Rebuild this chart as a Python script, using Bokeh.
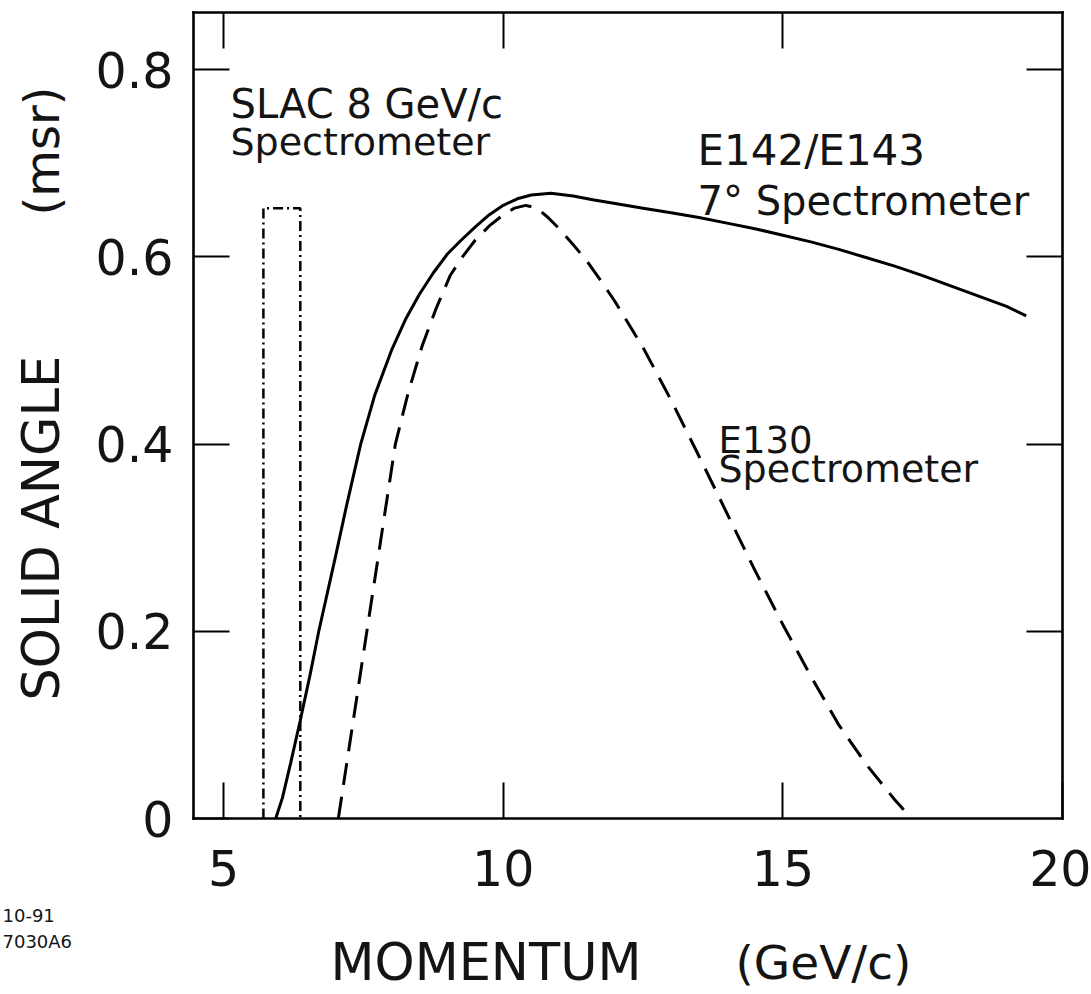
import math
from bokeh.plotting import figure
from bokeh.models import LinearAxis, FixedTicker, Label, Range1d
from bokeh.embed import file_html
from bokeh.resources import INLINE

# ---- data ----
e142_momentum = [5.93, 6.05, 6.20, 6.37, 6.55, 6.70, 6.85, 7.00, 7.20, 7.45, 7.70, 8.00,
                 8.25, 8.50, 8.75, 9.00, 9.25, 9.50, 9.75, 10.00, 10.25, 10.50, 10.85,
                 11.25, 11.60, 12.00, 12.50, 13.00, 13.50, 14.00, 14.50, 15.00, 15.50,
                 16.00, 16.50, 17.00, 17.50, 18.00, 18.50, 19.00, 19.35]
e142_solid_angle = [0.000, 0.022, 0.060, 0.105, 0.155, 0.200, 0.240, 0.280, 0.335, 0.400,
                    0.452, 0.500, 0.533, 0.560, 0.583, 0.603, 0.618, 0.632, 0.645, 0.655,
                    0.662, 0.666, 0.668, 0.665, 0.661, 0.657, 0.652, 0.647, 0.642, 0.636,
                    0.630, 0.623, 0.616, 0.608, 0.599, 0.590, 0.580, 0.569, 0.558, 0.547,
                    0.537]

e130_momentum = [7.05, 7.30, 7.55, 7.80, 8.07, 8.30, 8.55, 8.80, 9.05, 9.27, 9.50, 9.75,
                 10.00, 10.20, 10.40, 10.60, 10.80, 11.00, 11.25, 11.50, 11.75, 12.00,
                 12.50, 13.00, 13.50, 14.00, 14.50, 15.00, 15.50, 16.00, 16.50, 17.00, 17.30]
e130_solid_angle = [0.000, 0.098, 0.196, 0.294, 0.400, 0.455, 0.505, 0.545, 0.580, 0.600,
                    0.618, 0.633, 0.645, 0.652, 0.655, 0.652, 0.642, 0.630, 0.613, 0.595,
                    0.574, 0.552, 0.503, 0.447, 0.387, 0.326, 0.265, 0.207, 0.152, 0.100,
                    0.057, 0.020, 0.000]

slac_momentum = [5.71, 5.71, 6.37, 6.37]
slac_solid_angle = [0.0, 0.652, 0.652, 0.0]

x_ticks = [5, 10, 15, 20]
y_ticks = [0, 0.2, 0.4, 0.6, 0.8]

# plotted box (axis limits)
X_MIN, X_MAX = 4.46, 20.0
Y_MIN, Y_MAX = 0.0, 0.861

# ---- page geometry (pixels) ----
W, H = 1091, 994
BOX_L, BOX_R, BOX_T, BOX_B = 193, 1062, 12, 818
sx = (BOX_R - BOX_L) / (X_MAX - X_MIN)
sy = (BOX_B - BOX_T) / (Y_MAX - Y_MIN)
x_start = X_MIN - BOX_L / sx
x_end = X_MAX + (W - BOX_R) / sx
y_start = Y_MIN - (H - BOX_B) / sy
y_end = Y_MAX + BOX_T / sy

def px_x(px):
    return X_MIN + (px - BOX_L) / sx

def px_y(py):
    return Y_MIN + (BOX_B - py) / sy

FONT = "DejaVu Sans"
INK = "#141414"

p = figure(width=W, height=H,
           x_range=Range1d(x_start, x_end), y_range=Range1d(y_start, y_end),
           output_backend="svg", toolbar_location=None,
           min_border=0, min_border_left=0, min_border_right=0,
           min_border_top=0, min_border_bottom=0)
p.xgrid.visible = False
p.ygrid.visible = False
p.outline_line_color = None
p.background_fill_color = "white"
p.border_fill_color = "white"

def style_axis(ax, ticks, show_labels):
    ax.ticker = FixedTicker(ticks=ticks)
    ax.major_tick_in = 36
    ax.major_tick_out = 0
    ax.minor_tick_in = 0
    ax.minor_tick_out = 0
    ax.minor_tick_line_color = None
    ax.major_tick_line_color = "black"
    ax.major_tick_line_width = 2
    ax.axis_line_color = "black"
    ax.axis_line_width = 2.6
    ax.axis_line_cap = "square"
    if show_labels:
        ax.major_label_text_font = FONT
        ax.major_label_text_font_size = "49px"
        ax.major_label_text_color = INK
    else:
        ax.major_label_text_font_size = "1px"
        ax.major_label_text_color = None
        ax.major_label_standoff = 0

xa = p.xaxis[0]
style_axis(xa, x_ticks, True)
xa.fixed_location = Y_MIN
xa.bounds = (X_MIN, X_MAX)
xa.major_label_standoff = 31

ya = p.yaxis[0]
style_axis(ya, y_ticks, True)
ya.fixed_location = X_MIN
ya.bounds = (Y_MIN, Y_MAX)
ya.major_label_standoff = 20
ya.major_label_overrides = {0: "0"}

top = LinearAxis(fixed_location=Y_MAX, bounds=(X_MIN, X_MAX))
style_axis(top, [5, 10, 15], False)
p.add_layout(top, "above")
right = LinearAxis(fixed_location=X_MAX, bounds=(Y_MIN, Y_MAX))
style_axis(right, [0.2, 0.4, 0.6, 0.8], False)
p.add_layout(right, "right")

# ---- curves ----
p.line(slac_momentum, slac_solid_angle, line_color="black", line_width=2.5,
       line_dash="10 4 2 4")
p.line(e130_momentum, e130_solid_angle, line_color="black", line_width=3,
       line_dash="22 12")
p.line(e142_momentum, e142_solid_angle, line_color="black", line_width=3)

# ---- texts (anchored at the middle of each line of text) ----
def lab(x, y, text, size, angle=0.0):
    p.add_layout(Label(x=x, y=y, text=text, text_font=FONT, text_font_size=size,
                       text_color=INK, text_align="left", text_baseline="middle",
                       angle=angle))

lab(px_x(230), px_y(103), "SLAC 8 GeV/c", "40px")
lab(px_x(230), px_y(141), "Spectrometer", "38px")
lab(px_x(697), px_y(150), "E142/E143", "42px")
lab(px_x(697), px_y(200), "7° Spectrometer", "40px")
lab(px_x(718), px_y(440), "E130", "37px")
lab(px_x(718), px_y(468), "Spectrometer", "38px")

# axis titles
lab(px_x(330), px_y(962), "MOMENTUM", "51px")
lab(px_x(735), px_y(962), "(GeV/c)", "47px")
lab(px_x(41), px_y(700), "SOLID ANGLE", "51px", math.pi / 2)
lab(px_x(41), px_y(215), "(msr)", "48px", math.pi / 2)

# figure code in the corner
lab(px_x(2), px_y(915), "10-91", "18px")
lab(px_x(2), px_y(941), "7030A6", "18px")

open("out.html", "w").write(file_html(p, INLINE))
